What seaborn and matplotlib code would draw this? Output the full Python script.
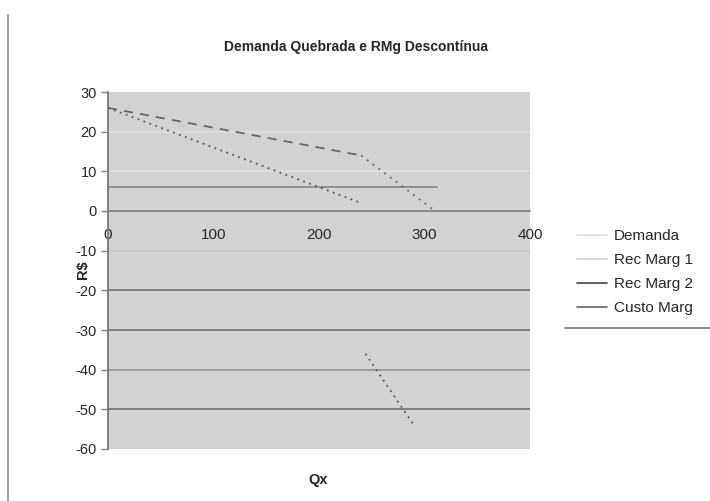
import numpy as np
import pandas as pd
import matplotlib
matplotlib.use('Agg')
import matplotlib.pyplot as plt
import seaborn as sns
from matplotlib.lines import Line2D

# data
dem_q = [0, 240, 310]
dem_p = [26, 14, 0]
rmg1_q = [0, 240]
rmg1_p = [26, 2]
rmg2_q = [244, 290]
rmg2_p = [-36, -54]
cmg_q = [0, 312]
cmg_p = [6, 6]

x_ticks = [0, 100, 200, 300, 400]
y_ticks = [30, 20, 10, 0, -10, -20, -30, -40, -50, -60]

sns.set_theme(style='white')
plt.rcParams['font.family'] = ['Liberation Sans', 'DejaVu Sans']

dem1 = pd.DataFrame({'Qx': dem_q[:2], 'R$': dem_p[:2]})
dem2 = pd.DataFrame({'Qx': dem_q[1:], 'R$': dem_p[1:]})
rm1 = pd.DataFrame({'Qx': rmg1_q, 'R$': rmg1_p})
rm2 = pd.DataFrame({'Qx': rmg2_q, 'R$': rmg2_p})
cm = pd.DataFrame({'Qx': cmg_q, 'R$': cmg_p})

fig = plt.figure(figsize=(7.1, 5.01), dpi=100)
ax = fig.add_axes([108/710, 1-449/501, 422/710, 357/501])
ax.set_facecolor('#d2d2d2')

sns.lineplot(data=cm, x='Qx', y='R$', ax=ax, color='#8a8a8a', lw=1.3, sort=False, estimator=None)
sns.lineplot(data=dem1, x='Qx', y='R$', ax=ax, color='#666666', lw=1.3, sort=False, estimator=None)
ax.lines[-1].set_dashes([5, 4])
sns.lineplot(data=dem2, x='Qx', y='R$', ax=ax, color='#666666', lw=1.3, sort=False, estimator=None)
ax.lines[-1].set_linestyle((0, (1, 3)))
sns.lineplot(data=rm1, x='Qx', y='R$', ax=ax, color='#555555', lw=1.3, sort=False, estimator=None)
ax.lines[-1].set_linestyle((0, (1, 2.5)))
sns.lineplot(data=rm2, x='Qx', y='R$', ax=ax, color='#555555', lw=1.3, sort=False, estimator=None)
ax.lines[-1].set_linestyle((0, (1, 2.5)))

ax.set_xlim(0, 400)
ax.set_ylim(-60, 30)
ax.set_yticks(y_ticks)
ax.set_yticklabels([str(v) for v in y_ticks], fontsize=10.5)
ax.set_xticks(x_ticks)
ax.set_xticklabels([str(v) for v in x_ticks], fontsize=10.5)
ax.tick_params(axis='y', length=5, width=1, color='#888888', pad=3, left=True)
ax.tick_params(axis='x', length=0, pad=12)

# gridlines
ax.yaxis.grid(True)
grid_cols = {30: '#d2d2d2', 20: '#e0e0e0', 10: '#e0e0e0', 0: '#888888', -10: '#c4c4c4',
             -20: '#6e6e6e', -30: '#6e6e6e', -40: '#949494', -50: '#6e6e6e', -60: '#d2d2d2'}
for v, gl in zip(y_ticks, ax.yaxis.get_gridlines()):
    gl.set_color(grid_cols[v])
    gl.set_linewidth(1.2)

for s in ['top', 'right']:
    ax.spines[s].set_visible(False)
ax.spines['left'].set_color('#777777')
ax.spines['left'].set_linewidth(1.3)
ax.spines['bottom'].set_position(('data', 0))
ax.spines['bottom'].set_color('#888888')
ax.spines['bottom'].set_linewidth(1.2)
ax.set_xlabel('')
ax.set_ylabel('')

fig.text(356/710, 1-47/501, 'Demanda Quebrada e RMg Descontínua', ha='center', va='center',
         fontsize=10, fontweight='bold')
fig.text(318/710, 1-480/501, 'Qx', ha='center', va='center', fontsize=10.5, fontweight='bold')
fig.text(83/710, 1-270/501, 'R$', ha='center', va='center', fontsize=10.5, fontweight='bold', rotation=90)

handles = [Line2D([], [], color='#dddddd', lw=1.2),
           Line2D([], [], color='#d0d0d0', lw=1.2),
           Line2D([], [], color='#444444', lw=1.2),
           Line2D([], [], color='#666666', lw=1.2)]
labels = ['Demanda', 'Rec Marg 1', 'Rec Marg 2', 'Custo Marg']
fig.legend(handles, labels, loc='center left', bbox_to_anchor=(566/710, 1-272/501),
           frameon=False, fontsize=11, labelspacing=0.66, handlelength=2.0, handletextpad=0.45,
           borderpad=0.2)

fig.add_artist(Line2D([565/710, 1], [1-328/501]*2, color='#777777', lw=1.2))
fig.add_artist(Line2D([8/710, 8/710], [0, 1-15/501], color='#888888', lw=1.2))

fig.savefig('out.png', dpi=100)
